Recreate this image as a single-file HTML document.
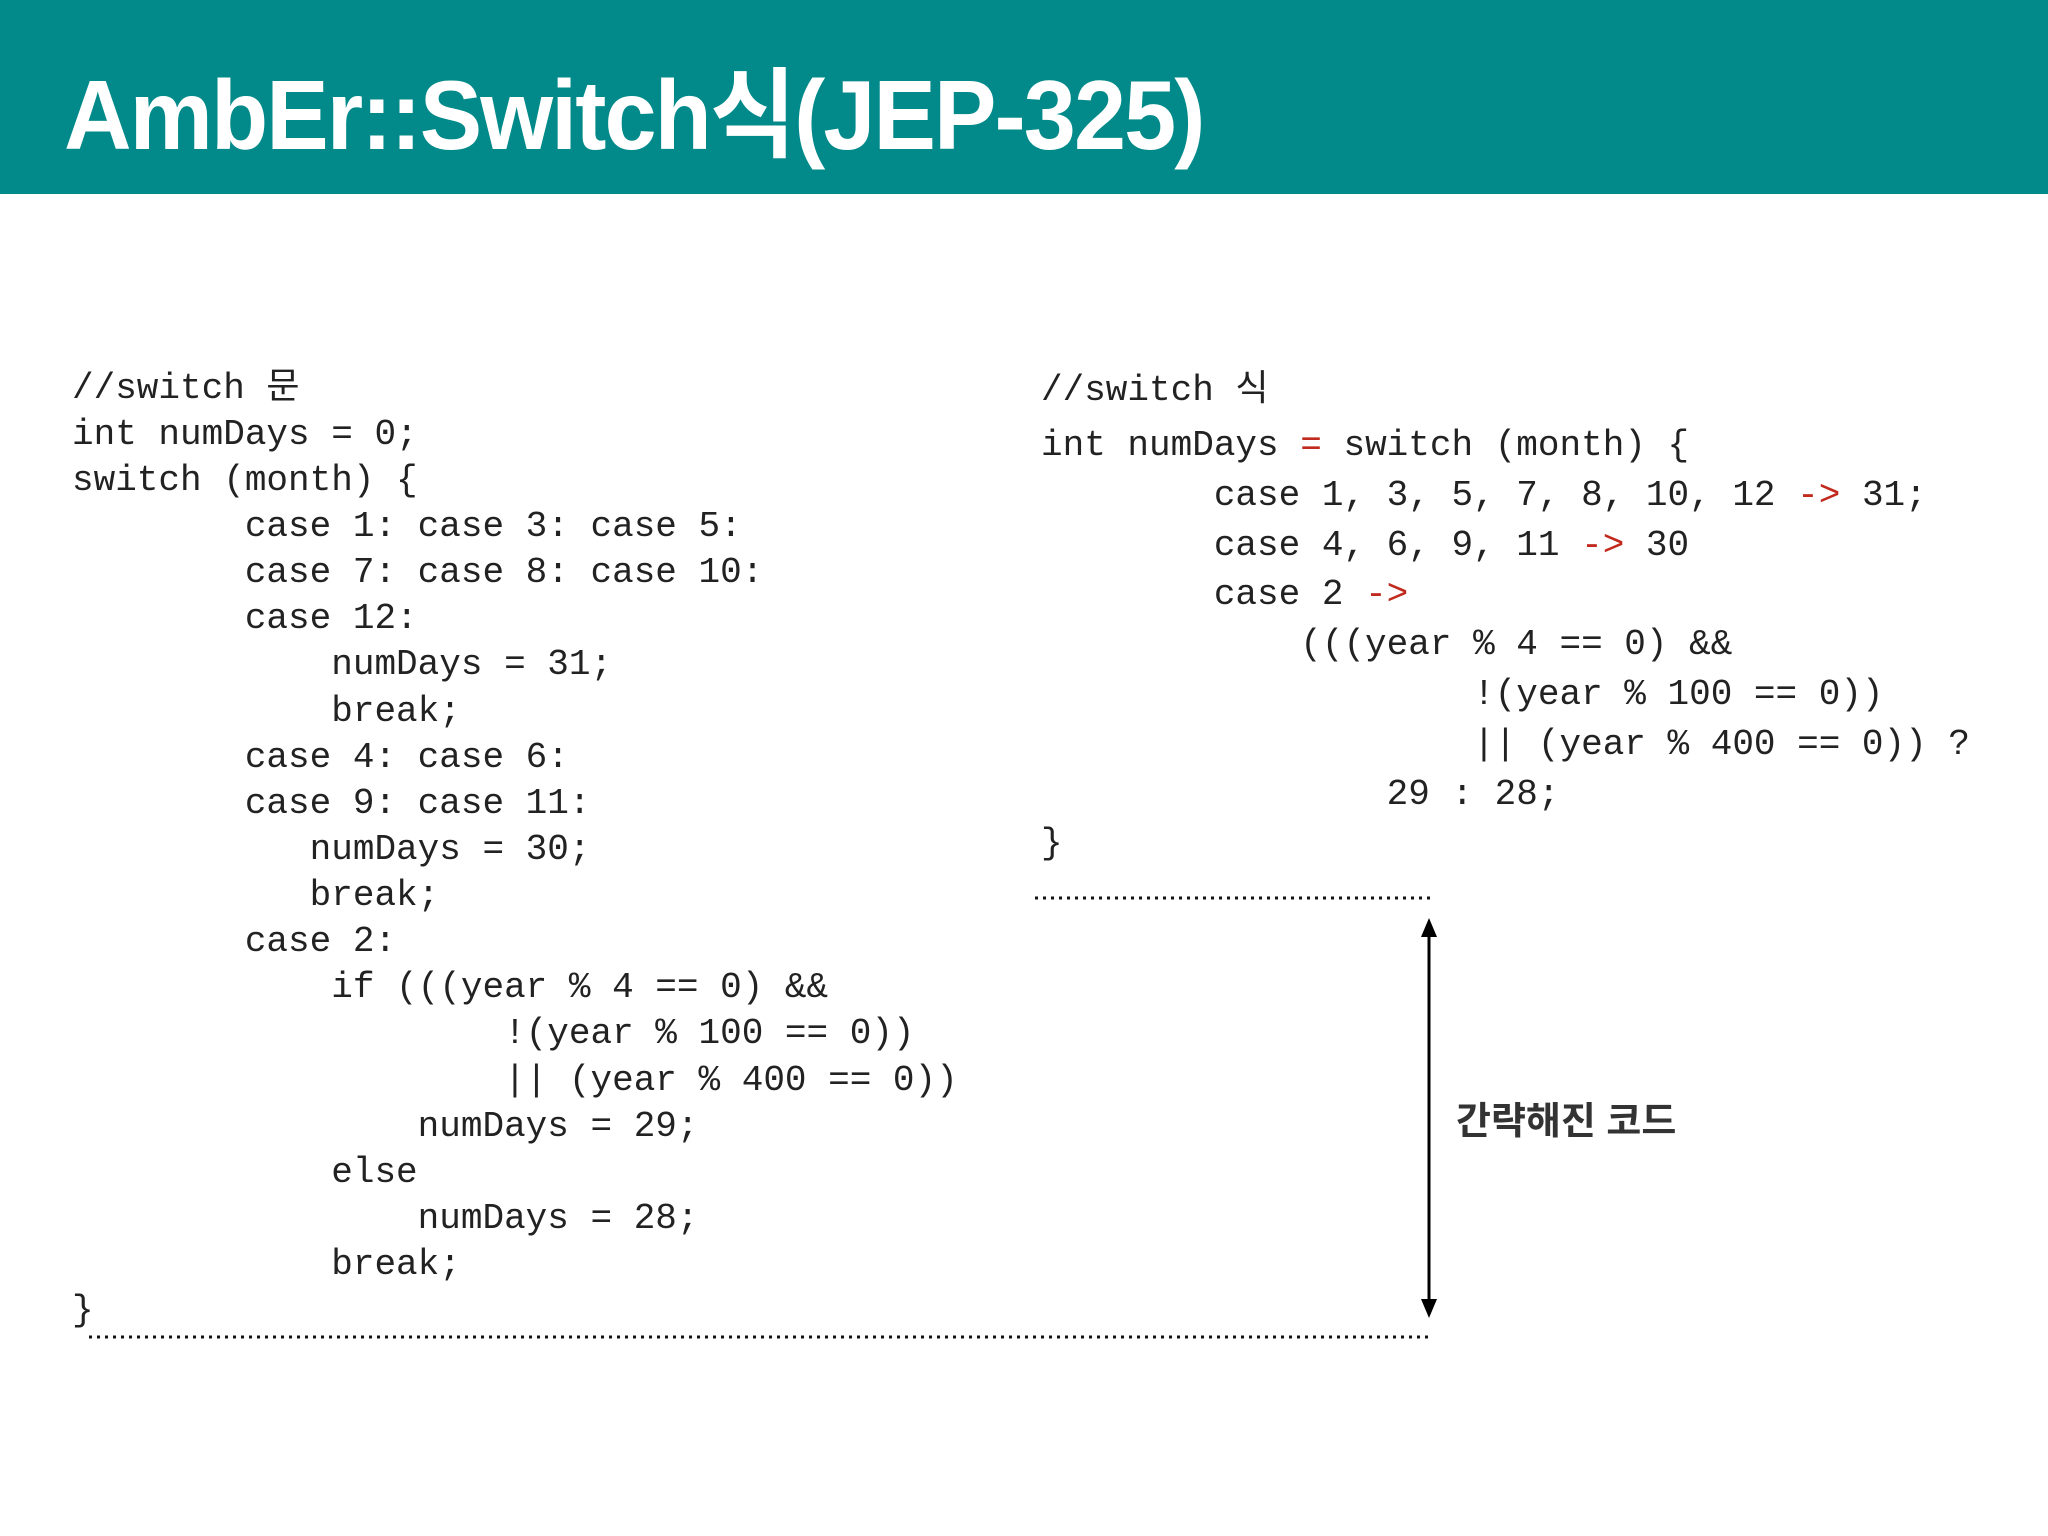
<!DOCTYPE html>
<html><head><meta charset="utf-8"><style>
body{margin:0;width:2048px;height:1536px;background:#fff;position:relative;overflow:hidden}
.hdr{position:absolute;left:0;top:0;width:2048px;height:194px;background:#028a8a}
.title{position:absolute;left:64px;top:36px;font-family:"Liberation Sans","Noto Sans CJK KR",sans-serif;font-weight:bold;font-size:98px;color:#fff;white-space:nowrap;transform-origin:0 0;transform:scaleX(0.955);letter-spacing:-2px}
.c{position:absolute;font-family:"Liberation Mono","Noto Sans CJK KR",monospace;font-size:36px;line-height:46px;height:46px;color:#222;white-space:pre}
.r{color:#c0291b}
.lbl{position:absolute;left:1456px;top:1090px;font-family:"Liberation Sans","Noto Sans CJK KR",sans-serif;font-weight:bold;font-size:38px;color:#333;white-space:nowrap}
</style></head><body>
<div class="hdr"></div>
<div class="title">AmbEr::Switch식(JEP-325)</div>

<div class="c" style="left:72px;top:366px">//switch 문</div>
<div class="c" style="left:72px;top:412px">int numDays = 0;</div>
<div class="c" style="left:72px;top:458px">switch (month) {</div>
<div class="c" style="left:72px;top:504px">        case 1: case 3: case 5:</div>
<div class="c" style="left:72px;top:550px">        case 7: case 8: case 10:</div>
<div class="c" style="left:72px;top:596px">        case 12:</div>
<div class="c" style="left:72px;top:642px">            numDays = 31;</div>
<div class="c" style="left:72px;top:689px">            break;</div>
<div class="c" style="left:72px;top:735px">        case 4: case 6:</div>
<div class="c" style="left:72px;top:781px">        case 9: case 11:</div>
<div class="c" style="left:72px;top:827px">           numDays = 30;</div>
<div class="c" style="left:72px;top:873px">           break;</div>
<div class="c" style="left:72px;top:919px">        case 2:</div>
<div class="c" style="left:72px;top:965px">            if (((year % 4 == 0) &amp;&amp;</div>
<div class="c" style="left:72px;top:1011px">                    !(year % 100 == 0))</div>
<div class="c" style="left:72px;top:1058px">                    || (year % 400 == 0))</div>
<div class="c" style="left:72px;top:1104px">                numDays = 29;</div>
<div class="c" style="left:72px;top:1150px">            else</div>
<div class="c" style="left:72px;top:1196px">                numDays = 28;</div>
<div class="c" style="left:72px;top:1242px">            break;</div>
<div class="c" style="left:72px;top:1288px">}</div>

<div class="c" style="left:1041px;top:368px">//switch 식</div>
<div class="c" style="left:1041px;top:423px">int numDays <span class="r">=</span> switch (month) {</div>
<div class="c" style="left:1041px;top:473px">        case 1, 3, 5, 7, 8, 10, 12 <span class="r">-&gt;</span> 31;</div>
<div class="c" style="left:1041px;top:523px">        case 4, 6, 9, 11 <span class="r">-&gt;</span> 30</div>
<div class="c" style="left:1041px;top:572px">        case 2 <span class="r">-&gt;</span></div>
<div class="c" style="left:1041px;top:622px">            (((year % 4 == 0) &amp;&amp;</div>
<div class="c" style="left:1041px;top:672px">                    !(year % 100 == 0))</div>
<div class="c" style="left:1041px;top:722px">                    || (year % 400 == 0)) ?</div>
<div class="c" style="left:1041px;top:772px">                29 : 28;</div>
<div class="c" style="left:1041px;top:821px">}</div>

<svg style="position:absolute;left:0;top:0" width="2048" height="1536">
<line x1="1035" y1="898" x2="1433" y2="898" stroke="#111" stroke-width="3" stroke-dasharray="3,5"/>
<line x1="89" y1="1337" x2="1433" y2="1337" stroke="#111" stroke-width="3" stroke-dasharray="3,5"/>
<line x1="1429" y1="935" x2="1429" y2="1302" stroke="#000" stroke-width="3"/>
<polygon points="1429,918 1421,937 1437,937" fill="#000"/>
<polygon points="1429,1318 1421,1299 1437,1299" fill="#000"/>
</svg>
<div class="lbl">간략해진 코드</div>
</body></html>
